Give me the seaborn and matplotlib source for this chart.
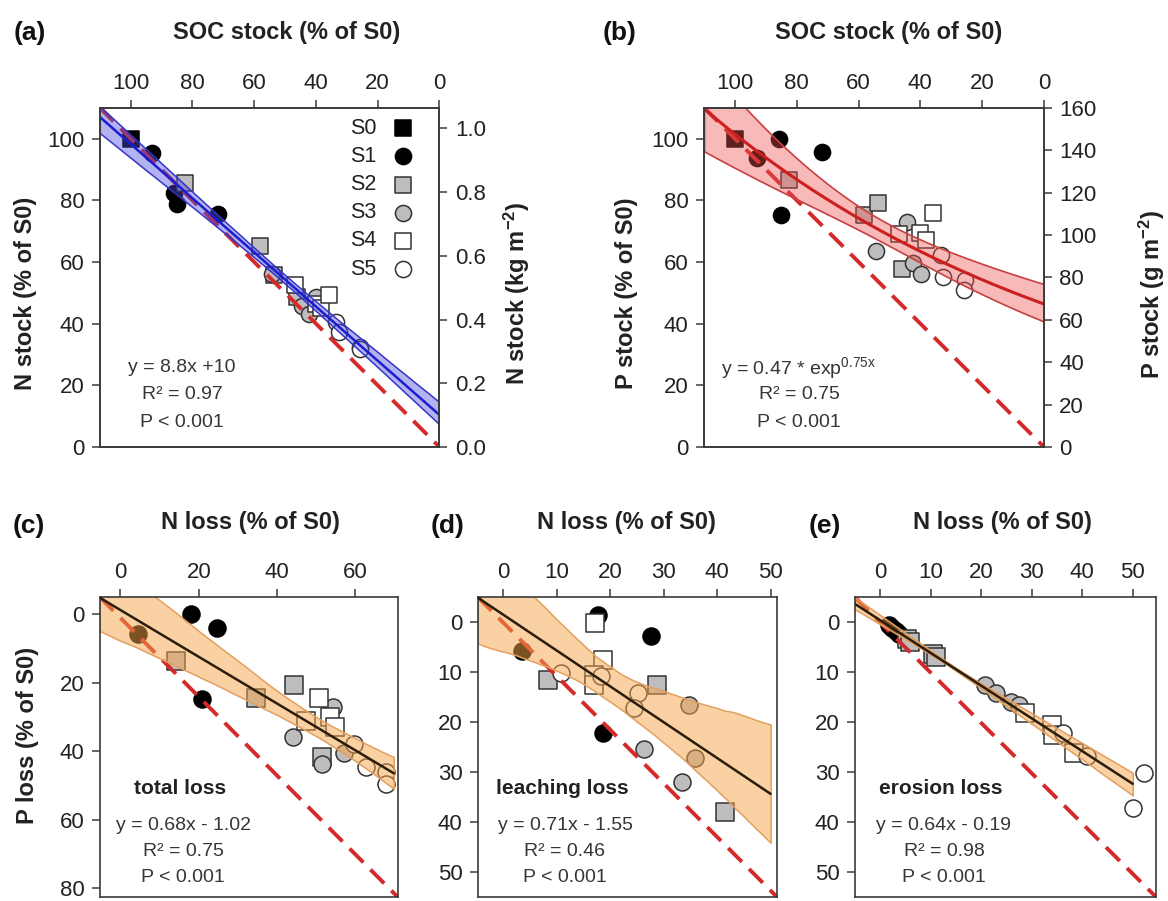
import numpy as np
import pandas as pd
import matplotlib
matplotlib.use("Agg")
import matplotlib.pyplot as plt
import matplotlib.colors as mcolors
import seaborn as sns

# ---------------- data ----------------
groups = ["S0", "S1", "S2", "S3", "S4", "S5"]

# panels (a) and (b): stocks as % of S0
group_ab = ["S0"] + ["S1"] * 4 + ["S2"] * 4 + ["S3"] * 4 + ["S4"] * 4 + ["S5"] * 4
soc_stock = [100, 93.0, 85.8, 85.1, 71.7, 82.5, 58.1, 53.6, 46.1, 54.2, 44.4, 42.3, 39.9,
             46.9, 40.1, 38.3, 35.8, 33.4, 32.6, 25.6, 25.8]
n_stock = [100, 95.4, 82.2, 78.9, 75.4, 85.7, 65.3, 55.7, 48.5, 56.0, 45.7, 43.0, 48.5,
           52.5, 46.4, 45.1, 49.4, 40.4, 37.4, 32.3, 31.8]
p_stock = [100, 93.8, 100.0, 75.1, 95.5, 86.5, 75.1, 79.2, 57.8, 63.5, 72.8, 59.5, 56.2,
           68.9, 69.4, 67.0, 75.7, 62.2, 55.1, 54.1, 50.8]

# panel (c): total loss
group_c = ["S1"] * 4 + ["S2"] * 4 + ["S3"] * 4 + ["S4"] * 4 + ["S5"] * 4
n_loss_total = [4.4, 17.9, 24.7, 20.9, 14.3, 34.7, 44.3, 51.5, 44.1, 54.3, 57.0, 51.5,
                50.6, 53.6, 54.9, 47.5, 59.6, 62.6, 67.7, 67.7]
p_loss_total = [5.8, 0.0, 3.9, 24.8, 13.8, 24.6, 20.8, 41.7, 35.9, 27.2, 40.4, 43.6,
                24.4, 30.1, 33.0, 31.1, 37.8, 44.6, 46.0, 49.4]

# panel (d): leaching loss
group_d = ["S1"] * 4 + ["S2"] * 3 + ["S3"] * 4 + ["S4"] * 4 + ["S5"] * 4
n_loss_leach = [3.4, 17.8, 27.6, 18.6, 8.3, 28.7, 41.4, 34.7, 26.4, 33.5, 35.9,
                17.1, 18.6, 17.0, 17.0, 10.8, 18.3, 25.1, 24.5]
p_loss_leach = [5.8, -1.5, 2.7, 22.2, 11.6, 12.6, 37.9, 16.6, 25.4, 32.0, 27.2,
                0.2, 7.5, 10.5, 12.5, 10.1, 10.8, 14.2, 17.2]

# panel (e): erosion loss
group_e = ["S1"] * 4 + ["S2"] * 4 + ["S3"] * 4 + ["S4"] * 4 + ["S5"] * 4
n_loss_eros = [1.6, 2.3, 3.0, 3.6, 5.2, 5.8, 10.4, 11.0, 20.8, 22.9, 25.9, 27.4,
               28.7, 34.0, 34.1, 38.3, 36.1, 40.9, 52.3, 50.0]
p_loss_eros = [0.5, 1.2, 1.7, 2.3, 3.4, 3.9, 6.4, 6.9, 12.6, 14.2, 15.9, 16.6,
               18.2, 20.5, 22.5, 26.2, 22.2, 26.8, 30.2, 37.1]

ticks_soc = [100, 80, 60, 40, 20, 0]
ticks_stock = [0, 20, 40, 60, 80, 100]
ticks_n_kg = [0.0, 0.2, 0.4, 0.6, 0.8, 1.0]
ticks_p_g = [0, 20, 40, 60, 80, 100, 120, 140, 160]
ticks_c_x = [0, 20, 40, 60]
ticks_c_y = [0, 20, 40, 60, 80]
ticks_de = [0, 10, 20, 30, 40, 50]

# ---------------- style ----------------
sns.set_style("ticks")
plt.rcParams["font.family"] = ["Liberation Sans", "DejaVu Sans"]
plt.rcParams["mathtext.fontset"] = "custom"
plt.rcParams["mathtext.rm"] = "Liberation Sans"
plt.rcParams["mathtext.it"] = "Liberation Sans"
plt.rcParams["mathtext.bf"] = "Liberation Sans:bold"
plt.rcParams["mathtext.default"] = "regular"

W, H = 1168, 901
fig = plt.figure(figsize=(W / 100, H / 100), dpi=100)

SPINE = "#3a3a3a"
TXT = "#222222"
ANN = "#363636"
markers = {"S0": "s", "S1": "o", "S2": "s", "S3": "o", "S4": "s", "S5": "o"}
fills = {"S0": "#000000", "S1": "#000000", "S2": "#bdbdbd", "S3": "#bdbdbd",
         "S4": "#ffffff", "S5": "#ffffff"}
edges = {"S0": "#000000", "S1": "#000000", "S2": "#333333", "S3": "#333333",
         "S4": "#333333", "S5": "#333333"}
TICK_FS = 16
LAB_FS = 17
ANN_FS = 14


def rect(l, r, t, b):
    return [l / W, 1 - b / H, (r - l) / W, (b - t) / H]


def ftext(x, y, s, **kw):
    fig.text(x / W, 1 - y / H, s, ha="center", va="center", **kw)


def style_axes(ax):
    for sp in ax.spines.values():
        sp.set_color(SPINE)
        sp.set_linewidth(1.2)
        sp.set_visible(True)
    ax.xaxis.tick_top()
    ax.tick_params(axis="x", top=True, bottom=False, labeltop=True, labelbottom=False,
                   direction="out", length=6, width=1.1, color=SPINE,
                   labelsize=TICK_FS, labelcolor=TXT, pad=4)
    ax.tick_params(axis="y", left=True, right=False, labelleft=True, labelright=False,
                   direction="out", length=6, width=1.1, color=SPINE,
                   labelsize=TICK_FS, labelcolor=TXT, pad=5)
    ax.set_xlabel("")
    ax.set_ylabel("")


def scatter(ax, x, y, g, s, legend=False):
    df = pd.DataFrame({"x": x, "y": y, "g": g})
    for grp in groups:
        sub = df[df["g"] == grp]
        if len(sub) == 0:
            continue
        kw = dict(label=grp) if legend else {}
        sns.scatterplot(data=sub, x="x", y="y", marker=markers[grp], color=fills[grp],
                        edgecolor=edges[grp], linewidth=1.1, s=s, ax=ax, zorder=2,
                        legend=False, **kw)


def ref_line(ax):
    xl = ax.get_xlim()
    yl = ax.get_ylim()
    ax.plot([xl[0], xl[1]], [yl[1], yl[0]], ls=(0, (5, 2.6)), color="#d42a2a",
            lw=2.8, zorder=2.2, dash_capstyle="butt")


def linfit(ax, x, y, xr, line_color, band_color, band_alpha, edge_color, lw):
    ax.set_xlim(*xr)
    sns.regplot(x=np.asarray(x, float), y=np.asarray(y, float), scatter=False,
                truncate=False, ci=95, n_boot=2000, seed=7, ax=ax, color=line_color,
                line_kws=dict(lw=lw, zorder=3))
    band = ax.collections[-1]
    band.set_alpha(None)
    band.set_facecolor(mcolors.to_rgba(band_color, band_alpha))
    band.set_edgecolor(edge_color)
    band.set_linewidth(1.1)
    band.set_zorder(2.5)


def right_axis(ax, lim, ticks, labels=None):
    ax2 = ax.twinx()
    ax2.set_ylim(*lim)
    ax2.set_yticks(ticks)
    if labels is not None:
        ax2.set_yticklabels(labels)
    ax2.tick_params(axis="y", right=True, left=False, labelright=True, labelleft=False,
                    direction="out", length=6, width=1.1, color=SPINE,
                    labelsize=TICK_FS, labelcolor=TXT, pad=5)
    for sp in ax2.spines.values():
        sp.set_color(SPINE)
        sp.set_linewidth(1.2)
    return ax2


# ================= panel (a) =================
axa = fig.add_axes(rect(99.7, 439.5, 107.7, 447))
axa.set_xlim(110, 0)
axa.set_ylim(0, 110)
scatter(axa, soc_stock, n_stock, group_ab, s=135, legend=True)
ref_line(axa)
linfit(axa, soc_stock, n_stock, (110, 0), "#1c1cd0", "#4a4ae0", 0.42, "#3434c8", 1.8)
axa.set_xlim(110, 0)
axa.set_ylim(0, 110)
axa.set_xticks(ticks_soc)
axa.set_yticks(ticks_stock)
style_axes(axa)
leg = axa.legend(loc="upper right",
                 bbox_to_anchor=((413.4 - 99.7) / 339.8, (447 - 118) / 339.3),
                 frameon=False, markerfirst=False, handlelength=1.0, handletextpad=0.7,
                 labelspacing=0.33, borderaxespad=0, borderpad=0, fontsize=15.5)
for t in leg.get_texts():
    t.set_color(TXT)
right_axis(axa, (0, 1.065), ticks_n_kg, [f"{v:.1f}" for v in ticks_n_kg])

ftext(182, 368, "y = 8.8x +10", fontsize=ANN_FS, color=ANN)
ftext(182, 395, "R² = 0.97", fontsize=ANN_FS, color=ANN)
ftext(182, 422, "P < 0.001", fontsize=ANN_FS, color=ANN)

# ================= panel (b) =================
axb = fig.add_axes(rect(704, 1044, 107.7, 447))
axb.set_xlim(110, 0)
axb.set_ylim(0, 110)
scatter(axb, soc_stock, p_stock, group_ab, s=135)
ref_line(axb)
# exponential fit (linear model on log scale) with 95% confidence band
xb = np.asarray(soc_stock, float)
lyb = np.log(np.asarray(p_stock, float))
Xb = np.column_stack([np.ones_like(xb), xb])
beta, *_ = np.linalg.lstsq(Xb, lyb, rcond=None)
res = lyb - Xb @ beta
s2 = res @ res / (len(xb) - 2)
cov = s2 * np.linalg.inv(Xb.T @ Xb)
grid = np.linspace(110, 0, 200)
G = np.column_stack([np.ones_like(grid), grid])
pred = G @ beta
se = np.sqrt(np.einsum("ij,jk,ik->i", G, cov, G))
tval = 2.093
axb.fill_between(grid, np.exp(pred - tval * se), np.exp(pred + tval * se),
                 facecolor=mcolors.to_rgba("#ee5050", 0.4), edgecolor="#c84040",
                 linewidth=1.2, zorder=2.5)
axb.plot(grid, np.exp(pred), color="#cc1f1f", lw=2.2, zorder=3)
axb.set_xlim(110, 0)
axb.set_ylim(0, 110)
axb.set_xticks(ticks_soc)
axb.set_yticks(ticks_stock)
style_axes(axb)
right_axis(axb, (0, 160), ticks_p_g)

ftext(799, 368, "y = 0.47 * exp$^{0.75x}$", fontsize=ANN_FS, color=ANN)
ftext(799, 395, "R² = 0.75", fontsize=ANN_FS, color=ANN)
ftext(799, 422, "P < 0.001", fontsize=ANN_FS, color=ANN)

# ================= panels (c)-(e) =================
ORANGE = "#f4a448"
ORANGE_EDGE = "#e2a060"
DARK = "#2b1d0e"


def loss_panel(r, x, y, g, xlim, ylim, fit_range, xt, yt):
    ax = fig.add_axes(r)
    ax.set_xlim(*xlim)
    ax.set_ylim(ylim[1], ylim[0])
    scatter(ax, x, y, g, s=150)
    ref_line(ax)
    linfit(ax, x, y, fit_range, DARK, ORANGE, 0.5, ORANGE_EDGE, 1.8)
    ax.set_xlim(*xlim)
    ax.set_ylim(ylim[1], ylim[0])
    ax.set_xticks(xt)
    ax.set_yticks(yt)
    style_axes(ax)
    return ax


axc = loss_panel(rect(99.7, 397.7, 597.0, 897), n_loss_total, p_loss_total, group_c,
                 (-5.3, 70.8), (-5.0, 82.5), (-5.3, 69.8), ticks_c_x, ticks_c_y)
axd = loss_panel(rect(477.7, 777, 597.0, 897), n_loss_leach, p_loss_leach, group_d,
                 (-4.8, 51.2), (-5.1, 55.0), (-4.8, 50.0), ticks_de, ticks_de)
axe = loss_panel(rect(854.7, 1156, 597.0, 897), n_loss_eros, p_loss_eros, group_e,
                 (-5.1, 54.6), (-5.1, 55.0), (-5.1, 50.0), ticks_de, ticks_de)

for cx, name, eq, r2 in [(180, "total loss", "y = 0.68x - 1.02", "R² = 0.75"),
                         (562, "leaching loss", "y = 0.71x - 1.55", "R² = 0.46"),
                         (941, "erosion loss", "y = 0.64x - 0.19", "R² = 0.98")]:
    ftext(cx, 788, name, fontsize=15, fontweight="bold", color=TXT)
    ftext(cx + 3, 825, eq, fontsize=ANN_FS, color=ANN)
    ftext(cx + 3, 851, r2, fontsize=ANN_FS, color=ANN)
    ftext(cx + 3, 877, "P < 0.001", fontsize=ANN_FS, color=ANN)

# ---------------- titles, panel letters, axis labels ----------------
for x, y, s in [(30, 33, "(a)"), (620, 33, "(b)"), (29, 526, "(c)"),
                (448, 526, "(d)"), (825, 526, "(e)")]:
    ftext(x, y, s, fontsize=19, fontweight="bold", color="#111111")
for x, y, s in [(287, 32, "SOC stock (% of S0)"), (889, 32, "SOC stock (% of S0)"),
                (250, 522, "N loss (% of S0)"), (626, 522, "N loss (% of S0)"),
                (1002, 522, "N loss (% of S0)")]:
    ftext(x, y, s, fontsize=LAB_FS, fontweight="bold", color=TXT)
for x, y, s in [(26, 293, "N stock (% of S0)"), (517, 293, "N stock (kg m$^{-2}$)"),
                (627, 293, "P stock (% of S0)"), (1152, 295, "P stock (g m$^{-2}$)"),
                (28, 735, "P loss (% of S0)")]:
    ftext(x, y, s, fontsize=LAB_FS, fontweight="bold", color=TXT, rotation=90)

fig.savefig("out.png", dpi=100)
